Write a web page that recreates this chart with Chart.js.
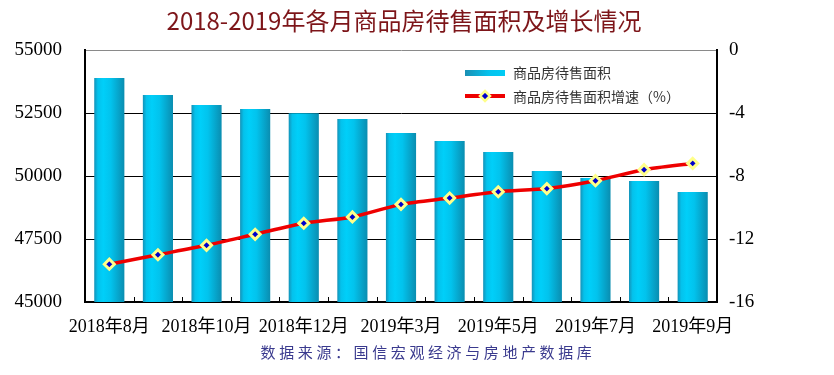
<!DOCTYPE html>
<html>
<head>
<meta charset="utf-8">
<script src="https://cdn.jsdelivr.net/npm/chart.js@4.4.1/dist/chart.umd.min.js"></script>
<style>
html,body{margin:0;padding:0;background:#fff;}
#wrap{width:834px;height:375px;position:relative;}
</style>
</head>
<body>
<div id="wrap"><canvas id="c" width="834" height="375"></canvas></div>
<script>
// ---- data ----
const titleText = '2018-2019年各月商品房待售面积及增长情况';
const sourceText = '数据来源：国信宏观经济与房地产数据库';
const categories = ['2018年8月','2018年9月','2018年10月','2018年11月','2018年12月','2019年2月','2019年3月','2019年4月','2019年5月','2019年6月','2019年7月','2019年8月','2019年9月'];
const xTickLabels = ['2018年8月','2018年10月','2018年12月','2019年3月','2019年5月','2019年7月','2019年9月'];
const areaLabel = '商品房待售面积';
const areaValues = [53890, 53210, 52820, 52660, 52490, 52260, 51710, 51390, 50950, 50200, 49920, 49800, 49370];
const growthLabel = '商品房待售面积增速（%）';
const growthValues = [-13.6, -13.0, -12.4, -11.7, -11.0, -10.6, -9.8, -9.4, -9.0, -8.8, -8.3, -7.6, -7.2];
const leftTicks = [45000, 47500, 50000, 52500, 55000];
const rightTicks = [-16, -12, -8, -4, 0];

const BAR_PCT = 0.62;
const CJK = '"Noto Sans CJK SC", sans-serif';
const SERIF = '"Liberation Serif", "Times New Roman", "Noto Sans CJK SC", serif';

function barGradient(ctx, x0, x1) {
  const g = ctx.createLinearGradient(x0, 0, x1, 0);
  g.addColorStop(0, '#1492b8');
  g.addColorStop(0.12, '#04c2ec');
  g.addColorStop(0.3, '#00cff9');
  g.addColorStop(0.55, '#02c3ed');
  g.addColorStop(1, '#0a8db0');
  return g;
}

const decor = {
  id: 'decor',
  afterDraw(chart) {
    const ctx = chart.ctx;
    const ca = chart.chartArea;
    const xs = chart.scales.x;
    ctx.save();
    // inward tick marks at category boundaries
    ctx.strokeStyle = '#000';
    ctx.lineWidth = 1;
    for (let i = 0; i < categories.length - 1; i++) {
      const xb = Math.round((xs.getPixelForValue(i) + xs.getPixelForValue(i + 1)) / 2) + 0.5;
      ctx.beginPath();
      ctx.moveTo(xb, ca.bottom);
      ctx.lineTo(xb, ca.bottom - 5);
      ctx.stroke();
    }
    // title
    ctx.fillStyle = '#7d1519';
    ctx.font = '24px ' + CJK;
    ctx.textAlign = 'center';
    ctx.textBaseline = 'middle';
    ctx.fillText(titleText, 404, 21);
    // source
    ctx.fillStyle = '#3a3a8e';
    ctx.font = '15px ' + CJK;
    if ('letterSpacing' in ctx) ctx.letterSpacing = '3.6px';
    ctx.fillText(sourceText, 428, 352);
    if ('letterSpacing' in ctx) ctx.letterSpacing = '0px';
    // legend
    const ds = chart.data.datasets;
    ctx.textAlign = 'left';
    ctx.font = '14px ' + CJK;
    // bar item
    const g = ctx.createLinearGradient(465, 0, 505, 0);
    g.addColorStop(0, '#1a8fb3');
    g.addColorStop(0.6, '#04c3ee');
    g.addColorStop(1, '#00ccf5');
    ctx.fillStyle = g;
    ctx.fillRect(465, 70, 40, 6);
    ctx.fillStyle = '#333';
    ctx.fillText(ds[1].label, 513, 73);
    // line item
    ctx.strokeStyle = '#ee0000';
    ctx.lineWidth = 4;
    ctx.beginPath();
    ctx.moveTo(465, 96);
    ctx.lineTo(505, 96);
    ctx.stroke();
    ctx.beginPath();
    ctx.moveTo(485, 91); ctx.lineTo(490, 96); ctx.lineTo(485, 101); ctx.lineTo(480, 96); ctx.closePath();
    ctx.fillStyle = '#0000cc';
    ctx.fill();
    ctx.lineWidth = 2.5;
    ctx.strokeStyle = '#ffff8a';
    ctx.stroke();
    ctx.fillStyle = '#333';
    ctx.fillText(ds[0].label, 513, 97);
    ctx.restore();
  }
};

new Chart(document.getElementById('c'), {
  data: {
    labels: categories,
    datasets: [
      {
        type: 'line',
        label: growthLabel,
        data: growthValues,
        yAxisID: 'y2',
        order: 0,
        borderColor: '#ee0000',
        borderWidth: 3.5,
        tension: 0.25,
        pointStyle: 'rectRot',
        pointRadius: 5,
        pointBorderWidth: 3,
        pointBorderColor: '#ffff8a',
        pointBackgroundColor: '#0000cc'
      },
      {
        type: 'bar',
        label: areaLabel,
        data: areaValues,
        yAxisID: 'y',
        order: 1,
        barPercentage: BAR_PCT,
        categoryPercentage: 1,
        backgroundColor(c) {
          const chart = c.chart;
          const xs = chart.scales.x;
          if (!xs || !chart.chartArea) return '#00c8f0';
          const cx = xs.getPixelForValue(c.dataIndex);
          const half = (xs.width / categories.length) * BAR_PCT / 2;
          return barGradient(chart.ctx, cx - half, cx + half);
        }
      }
    ]
  },
  options: {
    responsive: false,
    animation: false,
    devicePixelRatio: 1,
    layout: { padding: { top: 50, left: 0, right: 0, bottom: 0 } },
    plugins: { legend: { display: false }, tooltip: { enabled: false }, title: { display: false } },
    scales: {
      x: {
        type: 'category',
        offset: true,
        afterFit(s) { s.height = 73; },
        grid: { display: false, drawTicks: false },
        border: { display: true, color: '#000', width: 2 },
        ticks: {
          autoSkip: false, maxRotation: 0, minRotation: 0, padding: 14,
          color: '#000', font: { family: SERIF, size: 18 },
          callback(v) { const l = categories[v]; return xTickLabels.includes(l) ? l : ''; }
        }
      },
      y: {
        position: 'left',
        min: 45000, max: 55000,
        afterFit(s) { s.width = 85; },
        afterBuildTicks(s) { s.ticks = leftTicks.map(v => ({ value: v })); },
        grid: {
          drawTicks: false, lineWidth: 1,
          color(c) { return c.tick && c.tick.value === 55000 ? '#8a8a8a' : '#000'; }
        },
        border: { display: true, color: '#000', width: 2 },
        ticks: { padding: 23, color: '#000', font: { family: SERIF, size: 19 }, callback(v) { return String(v); } }
      },
      y2: {
        position: 'right',
        min: -16, max: 0,
        afterFit(s) { s.width = 117; },
        afterBuildTicks(s) { s.ticks = rightTicks.map(v => ({ value: v })); },
        grid: { display: false, drawTicks: false },
        border: { display: true, color: '#000', width: 2 },
        ticks: { padding: 12, color: '#000', font: { family: SERIF, size: 19 }, callback(v) { return String(v); } }
      }
    }
  },
  plugins: [decor]
});
</script>
</body>
</html>
